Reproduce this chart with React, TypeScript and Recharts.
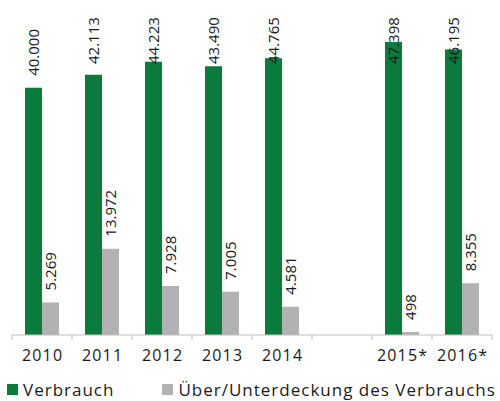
import React from 'react';
import { BarChart, Bar, XAxis, YAxis, LabelList, Legend } from 'recharts';

const categories = ['2010', '2011', '2012', '2013', '2014', '', '2015*', '2016*'];
const verbrauch = [40000, 42113, 44223, 43490, 44765, null, 47398, 46195];
const deckung = [5269, 13972, 7928, 7005, 4581, null, 498, 8355];
const seriesNames = ['Verbrauch', 'Über/Unterdeckung des Verbrauchs'];

const data = categories.map((c, i) => ({ name: c, verbrauch: verbrauch[i], deckung: deckung[i] }));

const W = 500;
const H = 401;
const MARGIN = { top: 26, right: 8, left: 12, bottom: 0 };
const BAND = (W - MARGIN.left - MARGIN.right) / categories.length;
const GREEN = '#0b7a3d';
const GREY = '#b2b2b4';
const AXIS = '#bfbfbf';
const TEXT = '#1a1a1a';
const FONT = '"Open Sans", "Noto Sans", sans-serif';

const fmt = (v: number) => {
  if (v < 1000) return String(v);
  const th = Math.floor(v / 1000);
  const rest = String(v % 1000).padStart(3, '0');
  return `${th}.${rest}`;
};

// minStart: lowest allowed start (bottom) of the rotated label, so it stays inside the chart top
const makeLabel = (minStart: number | null) => (props: any) => {
  const { x, y, width, value } = props;
  if (value == null) return null;
  const cx = Number(x) + Number(width) / 2 + 5.5;
  let sy = Number(y) - 12;
  if (minStart != null) sy = Math.max(sy, minStart);
  return (
    <g transform={`translate(${cx}, ${sy}) rotate(-90)`}>
      <text x={0} y={0} textAnchor="start" fontSize={15} fontFamily={FONT} fill={TEXT}>
        {fmt(Number(value))}
      </text>
    </g>
  );
};

const Tick = (props: any) => {
  const { x, y, payload, index, visibleTicksCount } = props;
  const half = BAND / 2;
  const last = index === visibleTicksCount - 1;
  return (
    <g>
      <line x1={x - half} x2={x - half} y1={y} y2={y + 5} stroke={AXIS} strokeWidth={1} />
      {last && <line x1={x + half} x2={x + half} y1={y} y2={y + 5} stroke={AXIS} strokeWidth={1} />}
      <text
        x={x + 0.6}
        y={y + 26}
        textAnchor="middle"
        fontSize={16}
        letterSpacing={1.2}
        fontFamily={FONT}
        fill={TEXT}
      >
        {payload.value}
      </text>
    </g>
  );
};

const LegendContent = () => (
  <div
    style={{
      display: 'flex',
      alignItems: 'center',
      paddingLeft: 7,
      fontFamily: FONT,
      fontSize: 17,
      lineHeight: '17px',
      letterSpacing: 1,
      color: TEXT,
      whiteSpace: 'nowrap',
    }}
  >
    <span style={{ display: 'inline-block', width: 11, height: 11, background: GREEN, marginRight: 5 }} />
    <span>{seriesNames[0]}</span>
    <span style={{ display: 'inline-block', width: 11, height: 11, background: GREY, marginLeft: 48, marginRight: 5 }} />
    <span>{seriesNames[1]}</span>
  </div>
);

export default function App() {
  return (
    <div style={{ position: 'absolute', left: 0, top: 0, background: '#fff' }}>
      <BarChart
        width={W}
        height={H}
        data={data}
        margin={MARGIN}
        barGap={0}
        barSize={17}
        style={{ fontFamily: FONT }}
      >
        <XAxis
          dataKey="name"
          height={H - 335}
          tickSize={0}
          tickMargin={0}
          tickLine={false}
          axisLine={{ stroke: AXIS, strokeWidth: 1 }}
          interval={0}
          tick={<Tick />}
        />
        <YAxis hide domain={[0, 50000]} />
        <Legend
          layout="horizontal"
          verticalAlign="middle"
          align="center"
          content={<LegendContent />}
          wrapperStyle={{ position: 'absolute', top: 381, left: 0, width: W }}
        />
        <Bar dataKey="verbrauch" name={seriesNames[0]} fill={GREEN} isAnimationActive={false}>
          <LabelList dataKey="verbrauch" content={makeLabel(64)} />
        </Bar>
        <Bar dataKey="deckung" name={seriesNames[1]} fill={GREY} isAnimationActive={false}>
          <LabelList dataKey="deckung" content={makeLabel(null)} />
        </Bar>
      </BarChart>
    </div>
  );
}
